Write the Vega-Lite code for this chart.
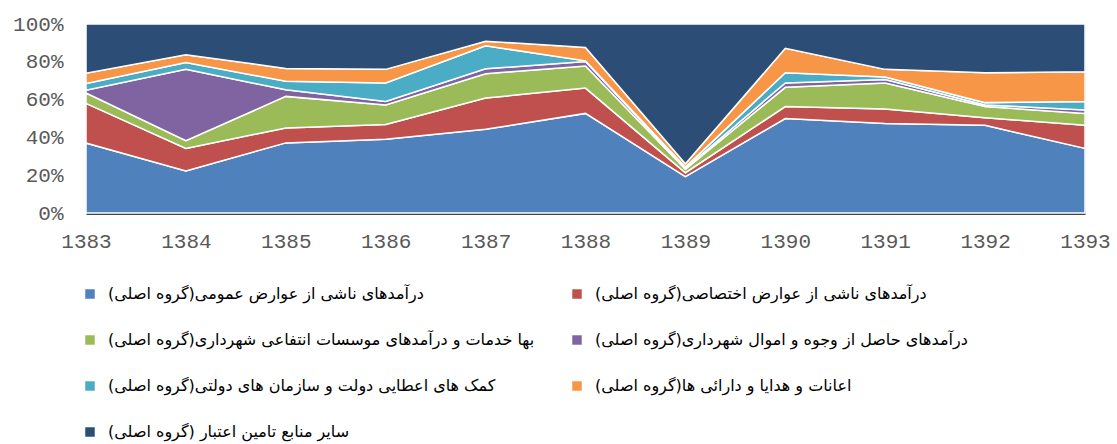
{
  "$schema": "https://vega.github.io/schema/vega-lite/v6.json",
  "width": 999,
  "height": 189,
  "autosize": "none",
  "padding": {"left": 86, "top": 24, "right": 32, "bottom": 231},
  "background": "white",
  "config": {"view": {"stroke": "#c5cedd", "strokeWidth": 1}},
  "data": {"values": [
    {"year": 1383, "k": 1, "s": "درآمدهای ناشی از عوارض عمومی(گروه اصلی)", "v": 37},
    {"year": 1383, "k": 2, "s": "درآمدهای ناشی از عوارض اختصاصی(گروه اصلی)", "v": 21},
    {"year": 1383, "k": 3, "s": "بها خدمات و درآمدهای موسسات انتفاعی شهرداری(گروه اصلی)", "v": 5.5},
    {"year": 1383, "k": 4, "s": "درآمدهای حاصل از وجوه و اموال شهرداری(گروه اصلی)", "v": 1.5},
    {"year": 1383, "k": 5, "s": "کمک های اعطایی دولت و سازمان های دولتی(گروه اصلی)", "v": 3.5},
    {"year": 1383, "k": 6, "s": "اعانات و هدایا و دارائی ها(گروه اصلی)", "v": 5.5},
    {"year": 1383, "k": 7, "s": "سایر منابع تامین اعتبار (گروه اصلی)", "v": 26},
    {"year": 1384, "k": 1, "s": "درآمدهای ناشی از عوارض عمومی(گروه اصلی)", "v": 22.2},
    {"year": 1384, "k": 2, "s": "درآمدهای ناشی از عوارض اختصاصی(گروه اصلی)", "v": 12},
    {"year": 1384, "k": 3, "s": "بها خدمات و درآمدهای موسسات انتفاعی شهرداری(گروه اصلی)", "v": 4.1},
    {"year": 1384, "k": 4, "s": "درآمدهای حاصل از وجوه و اموال شهرداری(گروه اصلی)", "v": 37.7},
    {"year": 1384, "k": 5, "s": "کمک های اعطایی دولت و سازمان های دولتی(گروه اصلی)", "v": 3.6},
    {"year": 1384, "k": 6, "s": "اعانات و هدایا و دارائی ها(گروه اصلی)", "v": 4.1},
    {"year": 1384, "k": 7, "s": "سایر منابع تامین اعتبار (گروه اصلی)", "v": 16.3},
    {"year": 1385, "k": 1, "s": "درآمدهای ناشی از عوارض عمومی(گروه اصلی)", "v": 37.1},
    {"year": 1385, "k": 2, "s": "درآمدهای ناشی از عوارض اختصاصی(گروه اصلی)", "v": 7.9},
    {"year": 1385, "k": 3, "s": "بها خدمات و درآمدهای موسسات انتفاعی شهرداری(گروه اصلی)", "v": 16.7},
    {"year": 1385, "k": 4, "s": "درآمدهای حاصل از وجوه و اموال شهرداری(گروه اصلی)", "v": 3.5},
    {"year": 1385, "k": 5, "s": "کمک های اعطایی دولت و سازمان های دولتی(گروه اصلی)", "v": 4.5},
    {"year": 1385, "k": 6, "s": "اعانات و هدایا و دارائی ها(گروه اصلی)", "v": 6.8},
    {"year": 1385, "k": 7, "s": "سایر منابع تامین اعتبار (گروه اصلی)", "v": 23.5},
    {"year": 1386, "k": 1, "s": "درآمدهای ناشی از عوارض عمومی(گروه اصلی)", "v": 39},
    {"year": 1386, "k": 2, "s": "درآمدهای ناشی از عوارض اختصاصی(گروه اصلی)", "v": 7.8},
    {"year": 1386, "k": 3, "s": "بها خدمات و درآمدهای موسسات انتفاعی شهرداری(گروه اصلی)", "v": 10.4},
    {"year": 1386, "k": 4, "s": "درآمدهای حاصل از وجوه و اموال شهرداری(گروه اصلی)", "v": 1.8},
    {"year": 1386, "k": 5, "s": "کمک های اعطایی دولت و سازمان های دولتی(گروه اصلی)", "v": 9.8},
    {"year": 1386, "k": 6, "s": "اعانات و هدایا و دارائی ها(گروه اصلی)", "v": 7.2},
    {"year": 1386, "k": 7, "s": "سایر منابع تامین اعتبار (گروه اصلی)", "v": 24},
    {"year": 1387, "k": 1, "s": "درآمدهای ناشی از عوارض عمومی(گروه اصلی)", "v": 44.3},
    {"year": 1387, "k": 2, "s": "درآمدهای ناشی از عوارض اختصاصی(گروه اصلی)", "v": 16.5},
    {"year": 1387, "k": 3, "s": "بها خدمات و درآمدهای موسسات انتفاعی شهرداری(گروه اصلی)", "v": 12.9},
    {"year": 1387, "k": 4, "s": "درآمدهای حاصل از وجوه و اموال شهرداری(گروه اصلی)", "v": 2.6},
    {"year": 1387, "k": 5, "s": "کمک های اعطایی دولت و سازمان های دولتی(گروه اصلی)", "v": 12.2},
    {"year": 1387, "k": 6, "s": "اعانات و هدایا و دارائی ها(گروه اصلی)", "v": 2.4},
    {"year": 1387, "k": 7, "s": "سایر منابع تامین اعتبار (گروه اصلی)", "v": 9.1},
    {"year": 1388, "k": 1, "s": "درآمدهای ناشی از عوارض عمومی(گروه اصلی)", "v": 52.7},
    {"year": 1388, "k": 2, "s": "درآمدهای ناشی از عوارض اختصاصی(گروه اصلی)", "v": 13.4},
    {"year": 1388, "k": 3, "s": "بها خدمات و درآمدهای موسسات انتفاعی شهرداری(گروه اصلی)", "v": 11.7},
    {"year": 1388, "k": 4, "s": "درآمدهای حاصل از وجوه و اموال شهرداری(گروه اصلی)", "v": 2.3},
    {"year": 1388, "k": 5, "s": "کمک های اعطایی دولت و سازمان های دولتی(گروه اصلی)", "v": 0.4},
    {"year": 1388, "k": 6, "s": "اعانات و هدایا و دارائی ها(گروه اصلی)", "v": 7.1},
    {"year": 1388, "k": 7, "s": "سایر منابع تامین اعتبار (گروه اصلی)", "v": 12.4},
    {"year": 1389, "k": 1, "s": "درآمدهای ناشی از عوارض عمومی(گروه اصلی)", "v": 19.2},
    {"year": 1389, "k": 2, "s": "درآمدهای ناشی از عوارض اختصاصی(گروه اصلی)", "v": 2.1},
    {"year": 1389, "k": 3, "s": "بها خدمات و درآمدهای موسسات انتفاعی شهرداری(گروه اصلی)", "v": 1.8},
    {"year": 1389, "k": 4, "s": "درآمدهای حاصل از وجوه و اموال شهرداری(گروه اصلی)", "v": 0.6},
    {"year": 1389, "k": 5, "s": "کمک های اعطایی دولت و سازمان های دولتی(گروه اصلی)", "v": 0.6},
    {"year": 1389, "k": 6, "s": "اعانات و هدایا و دارائی ها(گروه اصلی)", "v": 1.7},
    {"year": 1389, "k": 7, "s": "سایر منابع تامین اعتبار (گروه اصلی)", "v": 74},
    {"year": 1390, "k": 1, "s": "درآمدهای ناشی از عوارض عمومی(گروه اصلی)", "v": 50},
    {"year": 1390, "k": 2, "s": "درآمدهای ناشی از عوارض اختصاصی(گروه اصلی)", "v": 6.3},
    {"year": 1390, "k": 3, "s": "بها خدمات و درآمدهای موسسات انتفاعی شهرداری(گروه اصلی)", "v": 10.2},
    {"year": 1390, "k": 4, "s": "درآمدهای حاصل از وجوه و اموال شهرداری(گروه اصلی)", "v": 2.3},
    {"year": 1390, "k": 5, "s": "کمک های اعطایی دولت و سازمان های دولتی(گروه اصلی)", "v": 5.4},
    {"year": 1390, "k": 6, "s": "اعانات و هدایا و دارائی ها(گروه اصلی)", "v": 12.9},
    {"year": 1390, "k": 7, "s": "سایر منابع تامین اعتبار (گروه اصلی)", "v": 12.9},
    {"year": 1391, "k": 1, "s": "درآمدهای ناشی از عوارض عمومی(گروه اصلی)", "v": 47.3},
    {"year": 1391, "k": 2, "s": "درآمدهای ناشی از عوارض اختصاصی(گروه اصلی)", "v": 7.7},
    {"year": 1391, "k": 3, "s": "بها خدمات و درآمدهای موسسات انتفاعی شهرداری(گروه اصلی)", "v": 13.8},
    {"year": 1391, "k": 4, "s": "درآمدهای حاصل از وجوه و اموال شهرداری(گروه اصلی)", "v": 1.8},
    {"year": 1391, "k": 5, "s": "کمک های اعطایی دولت و سازمان های دولتی(گروه اصلی)", "v": 1.4},
    {"year": 1391, "k": 6, "s": "اعانات و هدایا و دارائی ها(گروه اصلی)", "v": 4},
    {"year": 1391, "k": 7, "s": "سایر منابع تامین اعتبار (گروه اصلی)", "v": 24},
    {"year": 1392, "k": 1, "s": "درآمدهای ناشی از عوارض عمومی(گروه اصلی)", "v": 46.4},
    {"year": 1392, "k": 2, "s": "درآمدهای ناشی از عوارض اختصاصی(گروه اصلی)", "v": 4},
    {"year": 1392, "k": 3, "s": "بها خدمات و درآمدهای موسسات انتفاعی شهرداری(گروه اصلی)", "v": 5.9},
    {"year": 1392, "k": 4, "s": "درآمدهای حاصل از وجوه و اموال شهرداری(گروه اصلی)", "v": 0.9},
    {"year": 1392, "k": 5, "s": "کمک های اعطایی دولت و سازمان های دولتی(گروه اصلی)", "v": 1.2},
    {"year": 1392, "k": 6, "s": "اعانات و هدایا و دارائی ها(گروه اصلی)", "v": 15.8},
    {"year": 1392, "k": 7, "s": "سایر منابع تامین اعتبار (گروه اصلی)", "v": 25.8},
    {"year": 1393, "k": 1, "s": "درآمدهای ناشی از عوارض عمومی(گروه اصلی)", "v": 34.2},
    {"year": 1393, "k": 2, "s": "درآمدهای ناشی از عوارض اختصاصی(گروه اصلی)", "v": 12.2},
    {"year": 1393, "k": 3, "s": "بها خدمات و درآمدهای موسسات انتفاعی شهرداری(گروه اصلی)", "v": 6.3},
    {"year": 1393, "k": 4, "s": "درآمدهای حاصل از وجوه و اموال شهرداری(گروه اصلی)", "v": 1.8},
    {"year": 1393, "k": 5, "s": "کمک های اعطایی دولت و سازمان های دولتی(گروه اصلی)", "v": 4.5},
    {"year": 1393, "k": 6, "s": "اعانات و هدایا و دارائی ها(گروه اصلی)", "v": 15.7},
    {"year": 1393, "k": 7, "s": "سایر منابع تامین اعتبار (گروه اصلی)", "v": 25.3}
  ]},
  "mark": {"type": "area", "stroke": "white", "strokeWidth": 1.5, "opacity": 1},
  "encoding": {
    "x": {
      "field": "year", "type": "quantitative",
      "scale": {"domain": [1383, 1393], "nice": false, "zero": false},
      "axis": {
        "title": null, "values": [1383, 1384, 1385, 1386, 1387, 1388, 1389, 1390, 1391, 1392, 1393],
        "format": "d", "ticks": false, "grid": false,
        "domainColor": "#404040", "domainWidth": 3,
        "labelFont": "Liberation Mono", "labelFontSize": 21, "labelColor": "#595959",
        "labelPadding": 17, "labelFlush": false, "labelOverlap": false
      }
    },
    "y": {
      "field": "v", "type": "quantitative", "stack": "normalize",
      "scale": {"domain": [0, 1], "nice": false},
      "axis": {
        "title": null, "values": [0, 0.2, 0.4, 0.6, 0.8, 1], "format": ".0%",
        "ticks": false, "domain": false, "grid": false,
        "labelFont": "Liberation Mono", "labelFontSize": 21, "labelColor": "#595959",
        "labelPadding": 23
      }
    },
    "order": {"field": "k", "type": "quantitative"},
    "color": {
      "field": "s", "type": "nominal",
      "scale": {
        "domain": [
          "درآمدهای ناشی از عوارض عمومی(گروه اصلی)",
          "بها خدمات و درآمدهای موسسات انتفاعی شهرداری(گروه اصلی)",
          "کمک های اعطایی دولت و سازمان های دولتی(گروه اصلی)",
          "سایر منابع تامین اعتبار (گروه اصلی)",
          "درآمدهای ناشی از عوارض اختصاصی(گروه اصلی)",
          "درآمدهای حاصل از وجوه و اموال شهرداری(گروه اصلی)",
          "اعانات و هدایا و دارائی ها(گروه اصلی)"
        ],
        "range": ["#4F81BD", "#9BBB59", "#4BACC6", "#2C4D75", "#C0504D", "#8064A2", "#F79646"]
      },
      "legend": {
        "title": null, "orient": "none", "legendX": -4, "legendY": 262,
        "columns": 2, "columnPadding": 34, "rowPadding": 30,
        "symbolType": "square", "symbolSize": 90, "symbolStrokeWidth": 0,
        "labelFont": "DejaVu Sans", "labelFontSize": 16, "labelColor": "#000000",
        "labelLimit": 0, "labelOffset": 10
      }
    }
  }
}
